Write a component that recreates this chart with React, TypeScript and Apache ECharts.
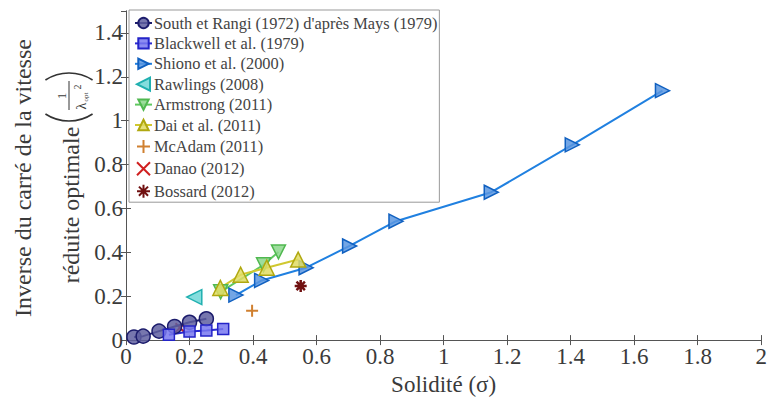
import React, { useEffect, useRef } from "react";
import * as echarts from "echarts";

const FONT = "Liberation Serif";

const southX = [0.025, 0.054, 0.104, 0.153, 0.2, 0.253];
const southY = [0.014, 0.018, 0.041, 0.062, 0.081, 0.097];

const blackwellX = [0.135, 0.2, 0.253, 0.306];
const blackwellY = [0.024, 0.039, 0.044, 0.051];

const shionoX = [0.346, 0.427, 0.567, 0.704, 0.85, 1.15, 1.405, 1.689];
const shionoY = [0.205, 0.272, 0.33, 0.429, 0.542, 0.674, 0.89, 1.137];

const rawlingsX = [0.215];
const rawlingsY = [0.196];

const armstrongX = [0.298, 0.433, 0.48];
const armstrongY = [0.22, 0.343, 0.402];

const daiX = [0.297, 0.361, 0.443, 0.542];
const daiY = [0.238, 0.298, 0.33, 0.367];

const mcadamX = [0.397];
const mcadamY = [0.134];

const danaoX = [0.17];
const danaoY = [0.056];

const bossardX = [0.55];
const bossardY = [0.247];

const seriesNames = [
  "South et Rangi (1972) d'après Mays (1979)",
  "Blackwell et al. (1979)",
  "Shiono et al. (2000)",
  "Rawlings (2008)",
  "Armstrong (2011)",
  "Dai et al. (2011)",
  "McAdam (2011)",
  "Danao (2012)",
  "Bossard (2012)",
];

const xTicks = { min: 0, max: 2, interval: 0.2 };
const yTicks = { min: 0, max: 1.5, interval: 0.2 };

const zip = (xs: number[], ys: number[]) => xs.map((x, i) => [x, ys[i]]);

const RIGHT_TRI = "path://M0,0L10,5L0,10Z";
const LEFT_TRI = "path://M10,0L0,5L10,10Z";
const DOWN_TRI = "path://M0,0L10,0L5,10Z";
const UP_TRI = "path://M5,0L10,10L0,10Z";
const PLUS = "path://M5,0L5,10M0,5L10,5";
const CROSS = "path://M0,0L10,10M10,0L0,10";
const STAR = "path://M5,0L5,10M0,5L10,5M1.5,1.5L8.5,8.5M8.5,1.5L1.5,8.5";

export default function App() {
  const ref = useRef<HTMLDivElement>(null);
  useEffect(() => {
    if (!ref.current) return;
    const chart = echarts.init(ref.current, undefined, { renderer: "svg" });

    const lineSeries = (
      name: string,
      xs: number[],
      ys: number[],
      symbol: string,
      size: number,
      lineColor: string,
      fill: string,
      border: string
    ) => ({
      type: "line",
      name,
      data: zip(xs, ys),
      symbol,
      symbolSize: size,
      showAllSymbol: true,
      lineStyle: { color: lineColor, width: 2 },
      itemStyle: { color: fill, borderColor: border, borderWidth: 1.5, opacity: 1 },
      emphasis: { disabled: true },
    });

    const scatterSeries = (
      name: string,
      xs: number[],
      ys: number[],
      symbol: string,
      size: number,
      fill: string,
      border: string,
      bw: number
    ) => ({
      type: "scatter",
      name,
      data: zip(xs, ys),
      symbol,
      symbolSize: size,
      itemStyle: { color: fill, borderColor: border, borderWidth: bw, opacity: 1 },
      emphasis: { disabled: true },
    });

    const axisCommon = {
      type: "value",
      axisLine: { show: true, lineStyle: { color: "#555", width: 1 } },
      axisTick: { show: true, inside: true, length: 5, lineStyle: { color: "#555" } },
      splitLine: { show: false },
    };

    const labelStyle = { fontFamily: FONT, fontSize: 23, color: "#3a3a3a" };

    const txt = (text: string, x: number, y: number, size: number) => ({
      type: "text",
      x,
      y,
      style: {
        text,
        fontFamily: FONT,
        fontSize: size,
        fill: "#3a3a3a",
        align: "center",
        verticalAlign: "middle",
      },
    });

    const A = 0.58;

    chart.setOption({
      animation: false,
      backgroundColor: "#fff",
      textStyle: { fontFamily: FONT },
      grid: { left: 126, right: 3, top: 11, bottom: 58 },
      xAxis: [
        {
          ...axisCommon,
          ...xTicks,
          position: "bottom",
          axisLabel: { ...labelStyle, margin: 5 },
          name: "Solidité (σ)",
          nameLocation: "middle",
          nameGap: 29,
          nameTextStyle: { fontFamily: FONT, fontSize: 23, color: "#3a3a3a" },
        },
        {
          ...axisCommon,
          ...xTicks,
          position: "top",
          axisLabel: { show: false },
        },
      ],
      yAxis: [
        {
          ...axisCommon,
          ...yTicks,
          position: "left",
          axisLabel: { ...labelStyle, margin: 3, showMaxLabel: false },
        },
        {
          ...axisCommon,
          ...yTicks,
          position: "right",
          axisLabel: { show: false },
        },
      ],
      legend: {
        orient: "vertical",
        left: 129,
        top: 10,
        backgroundColor: "#fff",
        borderColor: "#999",
        borderWidth: 1,
        borderRadius: 0,
        padding: [5, 2, 2, 5],
        itemGap: 4.4,
        itemWidth: 17,
        itemHeight: 13,
        textStyle: { fontFamily: FONT, fontSize: 16.4, color: "#444", padding: [0, 0, 0, -3] },
        data: seriesNames,
      },
      graphic: [
        {
          type: "group",
          x: 47,
          y: 178,
          rotation: Math.PI / 2,
          children: [
            txt("Inverse du carré de la vitesse", 0, -24, 24),
            txt("réduite optimale", -27, 24, 24),
            {
              type: "arc",
              shape: { cx: 100, cy: 22, r: 43, startAngle: Math.PI - A, endAngle: Math.PI + A, clockwise: true },
              style: { stroke: "#333", lineWidth: 1.6, fill: "none" },
            },
            {
              type: "arc",
              shape: { cx: 62, cy: 22, r: 43, startAngle: -A, endAngle: A, clockwise: true },
              style: { stroke: "#333", lineWidth: 1.6, fill: "none" },
            },
            txt("1", 82, 14, 13),
            {
              type: "line",
              shape: { x1: 68, y1: 22, x2: 97, y2: 22 },
              style: { stroke: "#333", lineWidth: 1 },
            },
            txt("λ", 72, 34, 14),
            txt("opt", 81, 39, 7),
            txt("2", 91, 30, 10),
          ],
        },
      ],
      series: [
        lineSeries(seriesNames[0], southX, southY, "circle", 14, "#1c1c6c", "rgba(95,95,160,0.85)", "#1c1c6c"),
        lineSeries(seriesNames[1], blackwellX, blackwellY, "rect", 11, "#2a2ad0", "rgba(120,120,240,0.85)", "#2424c8"),
        lineSeries(seriesNames[2], shionoX, shionoY, RIGHT_TRI, 14, "#2080e0", "rgba(90,150,225,0.85)", "#1060c0"),
        scatterSeries(seriesNames[3], rawlingsX, rawlingsY, LEFT_TRI, 15, "rgba(110,215,215,0.85)", "#20b0b0", 1.5),
        lineSeries(seriesNames[4], armstrongX, armstrongY, DOWN_TRI, 14, "#60c860", "rgba(140,215,140,0.85)", "#50b850"),
        lineSeries(seriesNames[5], daiX, daiY, UP_TRI, 15, "#d0c830", "rgba(225,220,100,0.85)", "#b0a810"),
        scatterSeries(seriesNames[6], mcadamX, mcadamY, PLUS, 12, "none", "#d08030", 2),
        scatterSeries(seriesNames[7], danaoX, danaoY, CROSS, 9, "none", "#d02020", 2),
        scatterSeries(seriesNames[8], bossardX, bossardY, STAR, 12, "none", "#701010", 2.5),
      ],
    });
    return () => chart.dispose();
  }, []);
  return (
    <div
      ref={ref}
      style={{ position: "fixed", left: 0, top: 0, width: 770, height: 401, background: "#fff" }}
    />
  );
}
